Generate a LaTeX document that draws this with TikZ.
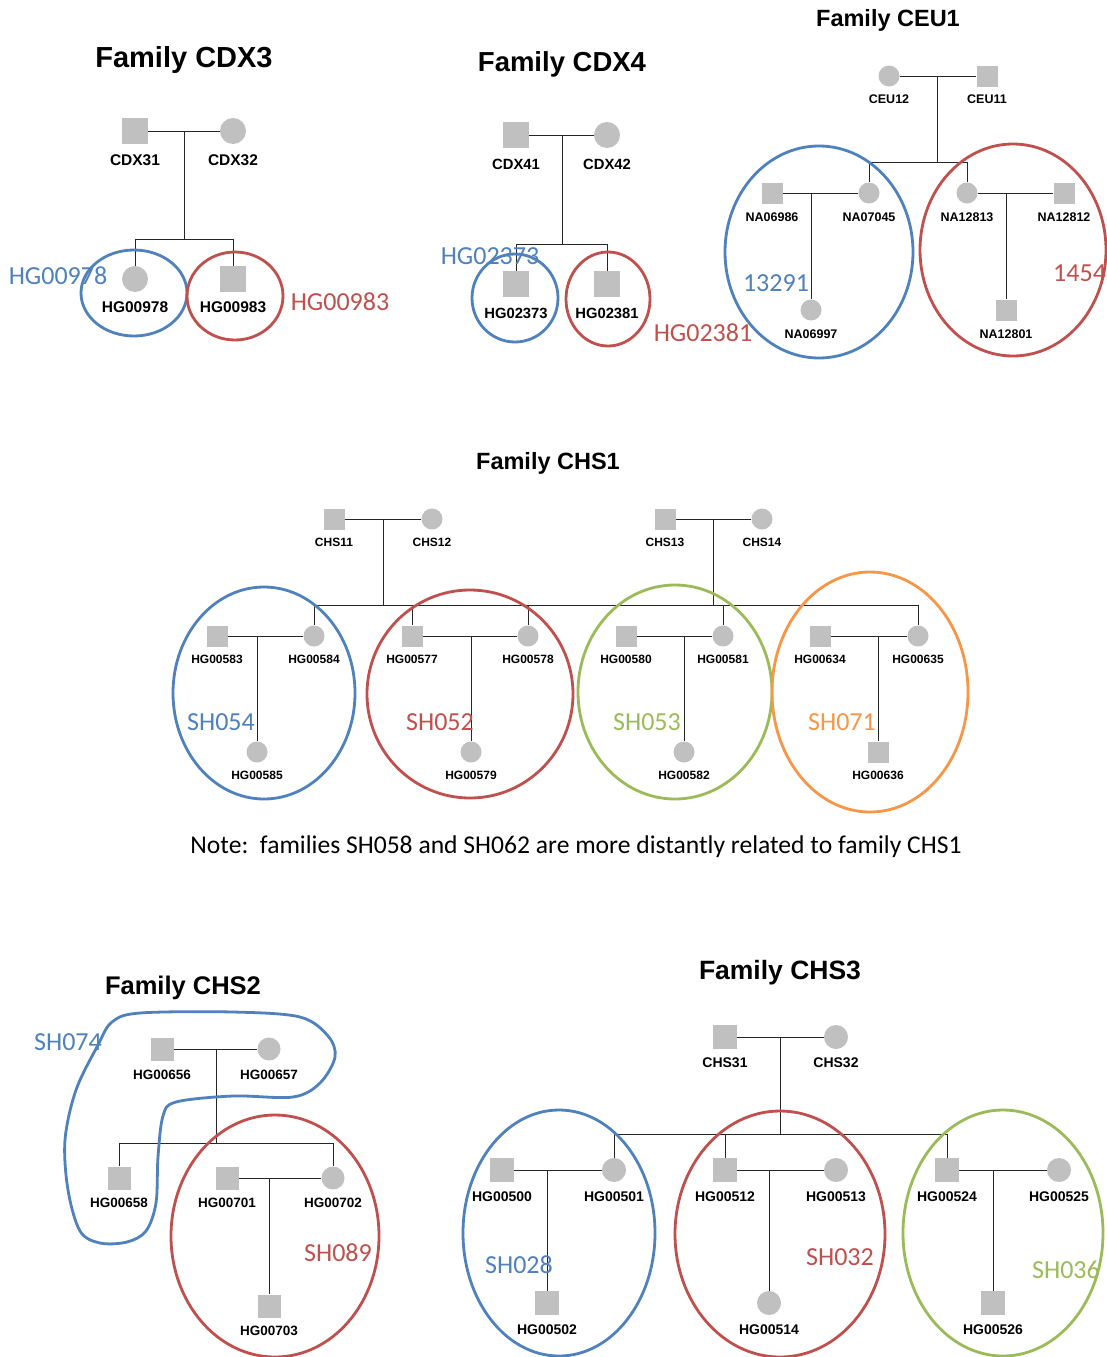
\documentclass[tikz,border=0pt]{standalone}
\usepackage{fontspec}
\setmainfont{Liberation Sans}
\newfontfamily\calib{Carlito}
\usetikzlibrary{calc}
\definecolor{symg}{RGB}{192,192,192}
\definecolor{oblue}{RGB}{79,129,189}
\definecolor{ored}{RGB}{192,80,77}
\definecolor{ogreen}{RGB}{155,187,89}
\definecolor{oorange}{RGB}{247,150,70}
\tikzset{
  msq/.style={rectangle, fill=symg, minimum size=#1, inner sep=0pt},
  fci/.style={circle, fill=symg, minimum size=#1, inner sep=0pt},
  lbl/.style={font=\bfseries\fontsize{#1}{#1}\selectfont, inner sep=0pt, yshift=-1pt},
  ttl/.style={font=\bfseries\fontsize{#1}{#1}\selectfont, inner sep=0pt, yshift=-2.5pt},
  tag/.style={font=\calib\fontsize{26}{26}\selectfont, inner sep=0pt, text=#1},
  ln/.style={line width=1pt, black!85},
  grp/.style={draw=#1, line width=2.8pt},
}
\begin{document}
\begin{tikzpicture}[x=1pt,y=-1pt]
\useasboundingbox[fill=white] (0,0) rectangle (1106,1357);

% ================= CDX3 =================
\node[ttl=29] (tcdx3) at (184,58) {Family CDX3};
\node[msq=26] (cdx31) at (135,131) {};
\node[fci=26] (cdx32) at (233,131) {};
\node[fci=26] (hg00978) at (135,279) {};
\node[msq=26] (hg00983) at (233,279) {};
\node[lbl=15.5] (lcdx31) at (135,159) {CDX31};
\node[lbl=15.5] (lcdx32) at (233,159) {CDX32};
\node[lbl=15.5] (lhg00978) at (135,306) {HG00978};
\node[lbl=15.5] (lhg00983) at (233,306) {HG00983};
\coordinate (cdx3m) at (184,131);
\coordinate (cdx3j) at (184,239);
\coordinate (cdx3a) at (135,239);
\coordinate (cdx3b) at (233,239);
\draw[ln] (cdx31) -- (cdx32);
\draw[ln] (cdx3m) -- (cdx3j);
\draw[ln] (cdx3a) -- (cdx3b);
\draw[ln] (cdx3a) -- (hg00978);
\draw[ln] (cdx3b) -- (hg00983);
\draw[grp=oblue] (134,293) ellipse [x radius=53, y radius=43];
\draw[grp=ored] (235,296) ellipse [x radius=48, y radius=44];
\node[tag=oblue] (g978) at (58,276) {HG00978};
\node[tag=ored] (g983) at (340,302) {HG00983};

% ================= CDX4 =================
\node[ttl=27.5] (tcdx4) at (562,62) {Family CDX4};
\node[msq=26] (cdx41) at (516,135) {};
\node[fci=26] (cdx42) at (607,135) {};
\node[msq=26] (hg02373) at (516,284) {};
\node[msq=26] (hg02381) at (607,284) {};
\node[lbl=14.8] (lcdx41) at (516,163) {CDX41};
\node[lbl=14.8] (lcdx42) at (607,163) {CDX42};
\node[lbl=14.8] (lhg02373) at (516,312) {HG02373};
\node[lbl=14.8] (lhg02381) at (607,312) {HG02381};
\coordinate (cdx4m) at (562,135);
\coordinate (cdx4j) at (562,244);
\coordinate (cdx4a) at (516,244);
\coordinate (cdx4b) at (607,244);
\draw[ln] (cdx41) -- (cdx42);
\draw[ln] (cdx4m) -- (cdx4j);
\draw[ln] (cdx4a) -- (cdx4b);
\draw[ln] (cdx4a) -- (hg02373);
\draw[ln] (cdx4b) -- (hg02381);
\draw[grp=oblue] (515,298) ellipse [x radius=43, y radius=44];
\draw[grp=ored] (608,299) ellipse [x radius=42, y radius=47];
\node[tag=oblue] (g2373) at (490,256) {HG02373};
\node[tag=ored] (g2381) at (703,333) {HG02381};

% ================= CEU1 =================
\node[ttl=23.5] (tceu1) at (888,18) {Family CEU1};
\node[fci=21] (ceu12) at (889,76) {};
\node[msq=21] (ceu11) at (987,76) {};
\node[msq=21] (na06986) at (772,193) {};
\node[fci=21] (na07045) at (869,193) {};
\node[fci=21] (na12813) at (967,193) {};
\node[msq=21] (na12812) at (1064,193) {};
\node[fci=21] (na06997) at (811,310) {};
\node[msq=21] (na12801) at (1006,310) {};
\node[lbl=12.5] (lceu12) at (889,98) {CEU12};
\node[lbl=12.5] (lceu11) at (987,98) {CEU11};
\node[lbl=12.5] (lna06986) at (772,216) {NA06986};
\node[lbl=12.5] (lna07045) at (869,216) {NA07045};
\node[lbl=12.5] (lna12813) at (967,216) {NA12813};
\node[lbl=12.5] (lna12812) at (1064,216) {NA12812};
\node[lbl=12.5] (lna06997) at (811,333) {NA06997};
\node[lbl=12.5] (lna12801) at (1006,333) {NA12801};
\coordinate (ceum) at (937,76);
\coordinate (ceuj) at (937,162);
\coordinate (ceua) at (869,162);
\coordinate (ceub) at (967,162);
\coordinate (ceuc) at (811,193);
\coordinate (ceud) at (1006,193);
\draw[ln] (ceu12) -- (ceu11);
\draw[ln] (ceum) -- (ceuj);
\draw[ln] (ceua) -- (ceub);
\draw[ln] (ceua) -- (na07045);
\draw[ln] (ceub) -- (na12813);
\draw[ln] (na06986) -- (na07045);
\draw[ln] (na12813) -- (na12812);
\draw[ln] (ceuc) -- (na06997);
\draw[ln] (ceud) -- (na12801);
\draw[grp=oblue] (819,252) ellipse [x radius=94, y radius=106];
\draw[grp=ored] (1013,250) ellipse [x radius=93, y radius=106];
\node[tag=oblue] (g13291) at (776,283) {13291};
\node[tag=ored, anchor=west] (g1454) at (1053,273) {1454};

% ================= CHS1 =================
\node[ttl=23.5] (tchs1) at (548,461) {Family CHS1};
\node[msq=21] (chs11) at (334,519) {};
\node[fci=21] (chs12) at (432,519) {};
\node[msq=21] (chs13) at (665,519) {};
\node[fci=21] (chs14) at (762,519) {};
\node[msq=21] (hg00583) at (217,636) {};
\node[fci=21] (hg00584) at (314,636) {};
\node[fci=21] (hg00585) at (257,752) {};
\node[msq=21] (hg00577) at (412,636) {};
\node[fci=21] (hg00578) at (528,636) {};
\node[fci=21] (hg00579) at (471,752) {};
\node[msq=21] (hg00580) at (626,636) {};
\node[fci=21] (hg00581) at (723,636) {};
\node[fci=21] (hg00582) at (684,752) {};
\node[msq=21] (hg00634) at (820,636) {};
\node[fci=21] (hg00635) at (918,636) {};
\node[msq=21] (hg00636) at (878,752) {};
\node[lbl=12] (lchs11) at (334,541) {CHS11};
\node[lbl=12] (lchs12) at (432,541) {CHS12};
\node[lbl=12] (lchs13) at (665,541) {CHS13};
\node[lbl=12] (lchs14) at (762,541) {CHS14};
\node[lbl=12] (lhg00583) at (217,658) {HG00583};
\node[lbl=12] (lhg00584) at (314,658) {HG00584};
\node[lbl=12] (lhg00585) at (257,774) {HG00585};
\node[lbl=12] (lhg00577) at (412,658) {HG00577};
\node[lbl=12] (lhg00578) at (528,658) {HG00578};
\node[lbl=12] (lhg00579) at (471,774) {HG00579};
\node[lbl=12] (lhg00580) at (626,658) {HG00580};
\node[lbl=12] (lhg00581) at (723,658) {HG00581};
\node[lbl=12] (lhg00582) at (684,774) {HG00582};
\node[lbl=12] (lhg00634) at (820,658) {HG00634};
\node[lbl=12] (lhg00635) at (918,658) {HG00635};
\node[lbl=12] (lhg00636) at (878,774) {HG00636};
\coordinate (c1m) at (383,519);
\coordinate (c1j) at (383,605);
\coordinate (c2m) at (713,519);
\coordinate (c2j) at (713,605);
\coordinate (cb1) at (314,605);
\coordinate (cb2) at (412,605);
\coordinate (cb3) at (528,605);
\coordinate (cb4) at (723,605);
\coordinate (cb5) at (918,605);
\coordinate (f1j) at (257,636);
\coordinate (f2j) at (471,636);
\coordinate (f3j) at (684,636);
\coordinate (f4j) at (878,636);
\draw[ln] (chs11) -- (chs12);
\draw[ln] (chs13) -- (chs14);
\draw[ln] (c1m) -- (c1j);
\draw[ln] (c2m) -- (c2j);
\draw[ln] (cb1) -- (cb5);
\draw[ln] (cb1) -- (hg00584);
\draw[ln] (cb2) -- (hg00577);
\draw[ln] (cb3) -- (hg00578);
\draw[ln] (cb4) -- (hg00581);
\draw[ln] (cb5) -- (hg00635);
\draw[ln] (hg00583) -- (hg00584);
\draw[ln] (hg00577) -- (hg00578);
\draw[ln] (hg00580) -- (hg00581);
\draw[ln] (hg00634) -- (hg00635);
\draw[ln] (f1j) -- (hg00585);
\draw[ln] (f2j) -- (hg00579);
\draw[ln] (f3j) -- (hg00582);
\draw[ln] (f4j) -- (hg00636);
\draw[grp=oblue] (264,693) ellipse [x radius=91, y radius=106];
\draw[grp=ored] (470,694) ellipse [x radius=103, y radius=104];
\draw[grp=ogreen] (675,692) ellipse [x radius=97, y radius=107];
\draw[grp=oorange] (870,692) ellipse [x radius=98, y radius=120];
\node[tag=oblue] (g054) at (221,722) {SH054};
\node[tag=ored] (g052) at (440,722) {SH052};
\node[tag=ogreen] (g053) at (647,722) {SH053};
\node[tag=oorange] (g071) at (842,722) {SH071};
\node[font=\calib\fontsize{25.6}{25.6}\selectfont, inner sep=0pt] (note) at (576,847)
  {Note:\ \ families SH058 and SH062 are more distantly related to family CHS1};

% ================= CHS2 =================
\node[ttl=25.5] (tchs2) at (183,985) {Family CHS2};
\node[msq=23] (hg00656) at (162,1049) {};
\node[fci=23] (hg00657) at (269,1049) {};
\node[msq=23] (hg00658) at (119,1178) {};
\node[msq=23] (hg00701) at (227,1178) {};
\node[fci=23] (hg00702) at (333,1178) {};
\node[msq=23] (hg00703) at (269,1306) {};
\node[lbl=13.5] (lhg00656) at (162,1074) {HG00656};
\node[lbl=13.5] (lhg00657) at (269,1074) {HG00657};
\node[lbl=13.5] (lhg00658) at (119,1202) {HG00658};
\node[lbl=13.5] (lhg00701) at (227,1202) {HG00701};
\node[lbl=13.5] (lhg00702) at (333,1202) {HG00702};
\node[lbl=13.5] (lhg00703) at (269,1330) {HG00703};
\coordinate (c2m2) at (216,1049);
\coordinate (c2j2) at (216,1143);
\coordinate (c2a) at (119,1143);
\coordinate (c2b) at (333,1143);
\coordinate (c2f) at (269,1178);
\draw[ln] (hg00656) -- (hg00657);
\draw[ln] (c2m2) -- (c2j2);
\draw[ln] (c2a) -- (c2b);
\draw[ln] (c2a) -- (hg00658);
\draw[ln] (c2b) -- (hg00702);
\draw[ln] (hg00701) -- (hg00702);
\draw[ln] (c2f) -- (hg00703);
\draw[grp=ored] (275,1236) ellipse [x radius=104, y radius=121];
\draw[grp=oblue] plot[smooth cycle, tension=0.55] coordinates {
  (112,1022) (140,1013) (233,1012) (300,1017) (328,1036) (335,1057)
  (320,1083) (293,1097) (233,1096) (176,1102) (163,1116) (158,1157)
  (156,1203) (146,1231) (127,1242) (100,1243) (80,1231) (68,1190)
  (65,1140) (76,1090) (98,1045)};
\node[tag=oblue] (g074) at (68,1042) {SH074};
\node[tag=ored] (g089) at (338,1253) {SH089};

% ================= CHS3 =================
\node[ttl=26.5] (tchs3) at (780,970) {Family CHS3};
\node[msq=24] (chs31) at (725,1037) {};
\node[fci=24] (chs32) at (836,1037) {};
\node[msq=24] (hg00500) at (502,1170) {};
\node[fci=24] (hg00501) at (614,1170) {};
\node[msq=24] (hg00502) at (547,1303) {};
\node[msq=24] (hg00512) at (725,1170) {};
\node[fci=24] (hg00513) at (836,1170) {};
\node[fci=24] (hg00514) at (769,1303) {};
\node[msq=24] (hg00524) at (947,1170) {};
\node[fci=24] (hg00525) at (1059,1170) {};
\node[msq=24] (hg00526) at (993,1303) {};
\node[lbl=14] (lchs31) at (725,1062) {CHS31};
\node[lbl=14] (lchs32) at (836,1062) {CHS32};
\node[lbl=14] (lhg00500) at (502,1196) {HG00500};
\node[lbl=14] (lhg00501) at (614,1196) {HG00501};
\node[lbl=14] (lhg00502) at (547,1329) {HG00502};
\node[lbl=14] (lhg00512) at (725,1196) {HG00512};
\node[lbl=14] (lhg00513) at (836,1196) {HG00513};
\node[lbl=14] (lhg00514) at (769,1329) {HG00514};
\node[lbl=14] (lhg00524) at (947,1196) {HG00524};
\node[lbl=14] (lhg00525) at (1059,1196) {HG00525};
\node[lbl=14] (lhg00526) at (993,1329) {HG00526};
\coordinate (c3m) at (780,1037);
\coordinate (c3j) at (780,1134);
\coordinate (c3a) at (614,1134);
\coordinate (c3b) at (725,1134);
\coordinate (c3c) at (947,1134);
\coordinate (g1j) at (547,1170);
\coordinate (g2j) at (769,1170);
\coordinate (g3j) at (993,1170);
\draw[ln] (chs31) -- (chs32);
\draw[ln] (c3m) -- (c3j);
\draw[ln] (c3a) -- (c3c);
\draw[ln] (c3a) -- (hg00501);
\draw[ln] (c3b) -- (hg00512);
\draw[ln] (c3c) -- (hg00524);
\draw[ln] (hg00500) -- (hg00501);
\draw[ln] (hg00512) -- (hg00513);
\draw[ln] (hg00524) -- (hg00525);
\draw[ln] (g1j) -- (hg00502);
\draw[ln] (g2j) -- (hg00514);
\draw[ln] (g3j) -- (hg00526);
\draw[grp=oblue] (559,1233) ellipse [x radius=96, y radius=123];
\draw[grp=ored] (780,1234) ellipse [x radius=105, y radius=123];
\draw[grp=ogreen] (1003,1233) ellipse [x radius=100, y radius=123];
\node[tag=oblue] (g028) at (519,1265) {SH028};
\node[tag=ored] (g032) at (840,1257) {SH032};
\node[tag=ogreen] (g036) at (1066,1270) {SH036};
\end{tikzpicture}
\end{document}
